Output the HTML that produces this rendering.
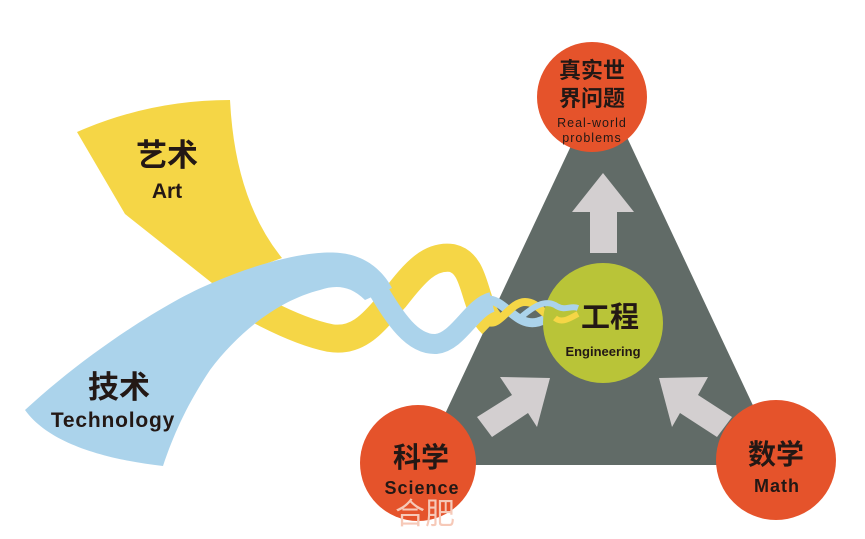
<!DOCTYPE html>
<html><head><meta charset="utf-8"><style>
html,body{margin:0;padding:0;background:#fff;}
svg{display:block;}
text{font-family:"Liberation Sans","Noto Sans CJK SC",sans-serif;fill:#231815;text-anchor:middle;}
.cn{font-weight:bold;}
.en{font-weight:bold;}
</style></head><body>
<svg width="865" height="539" viewBox="0 0 865 539" xmlns="http://www.w3.org/2000/svg">
<polygon points="601,82 781,465 421,465" fill="#616b67"/>
<polygon points="603,173 634,212 617,212 617,253 590,253 590,212 572,212" fill="#d3cfd0"/>
<polygon points="550,378 537,427 528,413 492,437 477,417 512,395 500,377" fill="#d3cfd0"/>
<polygon points="659,378 672,427 680,413 717,437 732,417 698,395 708,377" fill="#d3cfd0"/>
<path d="M77,132 Q150,100 230,100 Q235,200 282,258 L212,283 L125,214 Z" fill="#f5d646"/>
<path d="M212,283 C240,300 290,330 330,338 C360,343 375,320 395,298 C415,272 430,255 452,258 C478,264 472,305 492,324" fill="none" stroke="#f5d646" stroke-width="28"/>
<path d="M25,410 C90,350 170,300 212,283 C260,262 310,250 340,253 C370,256 385,275 392,288 L365,300 C350,285 335,285 320,290 C280,300 240,330 210,370 C190,400 175,430 163,466 C110,460 50,445 25,410 Z" fill="#abd3eb"/>
<path d="M378,290 C395,318 412,345 436,344 C458,342 472,307 492,302" fill="none" stroke="#abd3eb" stroke-width="20"/>
<path d="M484,300 C505,297 515,328 538,322 C555,317 562,305 578,310" fill="none" stroke="#abd3eb" stroke-width="9"/>
<path d="M488,322 C500,327 510,302 525,302 C540,302 545,320 560,320 C568,320 572,312 578,310" fill="none" stroke="#f5d646" stroke-width="8"/>
<circle cx="603" cy="323" r="60" fill="#b9c438"/>
<path d="M520,318 C535,305 545,300 555,305 C565,312 570,305 578,308" fill="none" stroke="#abd3eb" stroke-width="6"/>
<path d="M555,318 C562,324 570,318 578,314" fill="none" stroke="#f5d646" stroke-width="6"/>
<text x="610" y="327" class="cn" font-size="29">工程</text>
<text x="603" y="356" class="en" font-size="13">Engineering</text>
<circle cx="592" cy="97" r="55" fill="#e5532b"/>
<text x="592" y="78" class="cn" font-size="22">真实世</text>
<text x="592" y="106" class="cn" font-size="22">界问题</text>
<text x="592" y="127" font-size="12.5" letter-spacing="1">Real-world</text>
<text x="592" y="142" font-size="12.5" letter-spacing="1">problems</text>
<circle cx="418" cy="463" r="58" fill="#e5532b"/>
<text x="421" y="467" class="cn" font-size="28">科学</text>
<text x="422" y="494" class="en" font-size="18" letter-spacing="1">Science</text>
<text x="425" y="524" font-size="30" style="fill:#f6c9b8">合肥</text>
<circle cx="776" cy="460" r="60" fill="#e5532b"/>
<text x="776" y="464" class="cn" font-size="28">数学</text>
<text x="777" y="492" class="en" font-size="18" letter-spacing="1">Math</text>
<text x="167" y="166" class="cn" font-size="31">艺术</text>
<text x="167" y="198" class="en" font-size="21">Art</text>
<text x="119" y="398" class="cn" font-size="31">技术</text>
<text x="113" y="427" class="en" font-size="21" letter-spacing="0.8">Technology</text>
</svg>
</body></html>
